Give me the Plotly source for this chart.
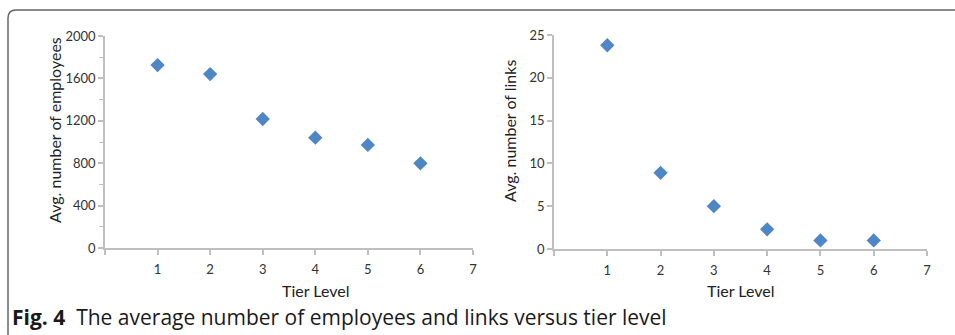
import plotly.graph_objects as go

W, H = 955, 335

tiers = [1, 2, 3, 4, 5, 6]
avg_employees = [1726, 1641, 1217, 1041, 972, 799]
avg_links = [23.8, 8.9, 5.0, 2.3, 1.0, 1.0]

x_tickvals = [0, 1, 2, 3, 4, 5, 6, 7]
x_ticktext = ["", "1", "2", "3", "4", "5", "6", "7"]
emp_ticks = [0, 400, 800, 1200, 1600, 2000]
link_ticks = [0, 5, 10, 15, 20, 25]

caption_bold = "Fig. 4"
caption_text = "The average number of employees and links versus tier level"
x_title = "Tier Level"
y_title_left = "Avg. number of employees"
y_title_right = "Avg. number of links"

def px(x):
    return x / W

def py(y):
    return 1 - y / H

marker_color = "#4f86c6"
axis_color = "#bfbfbf"
tick_font = dict(family="Lato, Open Sans, sans-serif", size=13, color="#333333")
title_font = dict(family="Lato, Open Sans, sans-serif", size=16, color="#222222")

fig = go.Figure()
fig.add_trace(go.Scatter(x=tiers, y=avg_employees, mode="markers",
                         marker=dict(symbol="diamond", size=11, color=marker_color),
                         xaxis="x", yaxis="y", showlegend=False))
fig.add_trace(go.Scatter(x=tiers, y=avg_links, mode="markers",
                         marker=dict(symbol="diamond", size=11, color=marker_color),
                         xaxis="x2", yaxis="y2", showlegend=False))

def xaxis(domain, anchor):
    return dict(domain=domain, anchor=anchor, range=[0, 7], tickmode="array",
                tickvals=x_tickvals, ticktext=x_ticktext, showgrid=False, zeroline=False,
                showline=True, linecolor=axis_color, linewidth=1.5, ticks="outside",
                ticklen=5, tickcolor=axis_color, tickwidth=1.5, tickfont=tick_font,
                ticklabelstandoff=4, automargin=False,
                title=dict(text="", font=title_font))

def yaxis(domain, anchor, rng, tickvals, minor):
    d = dict(domain=domain, anchor=anchor, range=rng, tickmode="array",
             tickvals=tickvals, showgrid=False, zeroline=False,
             showline=True, linecolor=axis_color, linewidth=1.5, ticks="outside",
             ticklen=5, tickcolor=axis_color, tickwidth=1.5, tickfont=tick_font,
             ticklabelstandoff=0, automargin=False,
             title=dict(text="", font=title_font))
    if minor:
        d["minor"] = dict(ticks="outside", ticklen=4, tickcolor=axis_color,
                          tickwidth=1.2, dtick=minor, tick0=0, tickmode="linear")
    return d

fig.update_layout(
    width=W, height=H,
    margin=dict(l=0, r=0, t=0, b=0, autoexpand=False),
    paper_bgcolor="white", plot_bgcolor="white",
    xaxis=xaxis([px(105), px(473)], "y"),
    yaxis=yaxis([py(248), py(36)], "x", [0, 2000], emp_ticks, 200),
    xaxis2=xaxis([px(554), px(927)], "y2"),
    yaxis2=yaxis([py(249), py(35)], "x2", [0, 25], link_ticks, None),
)

annotations = [
    dict(text=y_title_left, x=px(54), y=py(130), textangle=-90, showarrow=False,
         xref="paper", yref="paper", font=title_font, xanchor="center", yanchor="middle"),
    dict(text=y_title_right, x=px(510), y=py(131), textangle=-90, showarrow=False,
         xref="paper", yref="paper", font=title_font, xanchor="center", yanchor="middle"),
    dict(text=x_title, x=px(315), y=py(290), showarrow=False,
         xref="paper", yref="paper", font=title_font, xanchor="center", yanchor="middle"),
    dict(text=x_title, x=px(740), y=py(290), showarrow=False,
         xref="paper", yref="paper", font=title_font, xanchor="center", yanchor="middle"),
    dict(text="<b>" + caption_bold + "</b>  " + caption_text, x=px(10), y=py(317),
         showarrow=False, xref="paper", yref="paper", xanchor="left", yanchor="middle",
         font=dict(family="Open Sans, sans-serif", size=21, color="#1a1a1a")),
]
fig.update_layout(annotations=annotations)

# rounded frame (top and left borders)
r = 8
path = (f"M {px(8)},{py(H + 5)} L {px(8)},{py(10 + r)} "
        f"Q {px(8)},{py(10)} {px(8 + r)},{py(10)} L {px(W + 5)},{py(10)}")
fig.add_shape(type="path", path=path, xref="paper", yref="paper",
              line=dict(color="#666666", width=1.5))

fig.write_html("out.html", config={"displayModeBar": False},
               post_script="document.body.style.margin='0';document.body.style.overflow='hidden';")
